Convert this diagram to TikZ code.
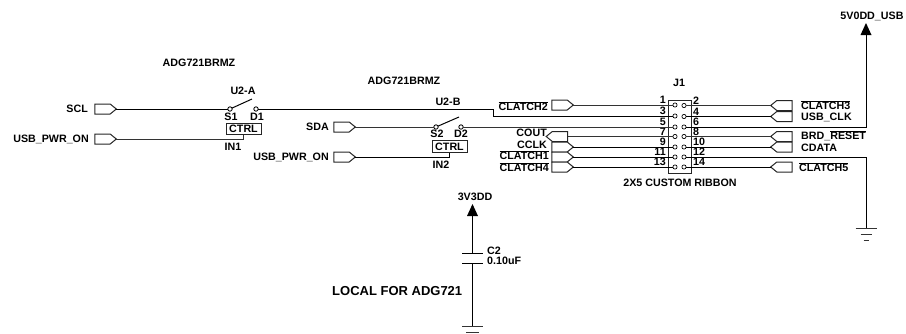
\documentclass[tikz,border=0pt]{standalone}
\usepackage{fontspec}
\setmainfont{Liberation Sans}
\usetikzlibrary{shapes.symbols}
\newcommand\ovl[1]{\leavevmode\vbox{\hrule height .8pt \kern .9pt\hbox{#1}}}
\tikzset{
  lbl/.style={font=\fontsize{10.7pt}{11pt}\selectfont\bfseries, inner sep=0pt, text height=7.7pt, text depth=0pt},
  wire/.style={draw=black, line width=1pt},
  thin wire/.style={draw=black!80, line width=1pt},
  port/.style={shape=signal, draw=black!85, line width=1pt, fill=white, signal from=nowhere, signal pointer angle=78, minimum width=21.5pt, minimum height=10pt, inner sep=0pt, outer sep=0pt},
  portR/.style={port, signal to=east},
  portL/.style={port, signal to=west},
  pin/.style={shape=circle, draw=black, line width=.7pt, fill=white, minimum size=4.2pt, inner sep=0pt, outer sep=0pt},
  sw/.style={shape=circle, draw=black, line width=.8pt, fill=white, minimum size=4.4pt, inner sep=0pt, outer sep=0pt},
  ctrl/.style={shape=rectangle, draw=black!85, line width=1pt, inner sep=0pt, font=\fontsize{10.7pt}{11pt}\selectfont\bfseries, minimum width=35pt, minimum height=11.5pt},
  supply/.style={fill=black},
}
\begin{document}
\begin{tikzpicture}[x=1pt,y=-1pt]
\useasboundingbox (0,0) rectangle (906,333);
% titles
\node[lbl] (t1) at (199,63) {ADG721BRMZ};
\node[lbl] (t2) at (404,81) {ADG721BRMZ};
\node[lbl] (u2a) at (243,91) {U2-A};
\node[lbl] (u2b) at (448,102) {U2-B};
\node[lbl] (j1) at (679,83) {J1};
\node[lbl] (rib) at (680,183) {2X5 CUSTOM RIBBON};
\node[lbl] (v5) at (872,16) {5V0DD\_USB};
\node[lbl] (v3) at (475,197) {3V3DD};
\node[lbl] (c2) [anchor=west] at (487,251) {C2};
\node[lbl] (c2v) [anchor=west] at (487,261) {0.10uF};
\node[lbl,font=\fontsize{13pt}{14pt}\selectfont\bfseries,text height=9.3pt] (local) [anchor=west] at (332,291) {LOCAL FOR ADG721};
% switch A
\node[portR] (scl) at (102.5,109) {};
\node[lbl,anchor=east] (sclt) at (88,109) {SCL};
\node[portR] (pwr1) at (102.5,139) {};
\node[lbl,anchor=east] (pwr1t) at (89,139) {USB\_PWR\_ON};
\node[sw] (s1) at (230,109) {};
\node[sw] (d1) at (256,109) {};
\coordinate (a1) at (252,99);
\node[lbl] (s1t) at (231,117) {S1};
\node[lbl] (d1t) at (257,117) {D1};
\node[ctrl] (ca) at (243.5,129) {CTRL};
\node[lbl] (in1) at (233,147) {IN1};
\draw[wire] (scl.east) -- (s1);
\draw[wire] (s1) -- (a1);
\draw[thin wire] (pwr1.east) -| (ca.south);
% switch B
\node[portR] (sda) at (341.5,127) {};
\node[lbl,anchor=east] (sdat) at (329,127) {SDA};
\node[portR] (pwr2) at (341.5,157) {};
\node[lbl,anchor=east] (pwr2t) at (329,157) {USB\_PWR\_ON};
\node[sw] (s2) at (436,127) {};
\node[sw] (d2) at (461,127) {};
\coordinate (a2) at (459,117);
\node[lbl] (s2t) at (437,134) {S2};
\node[lbl] (d2t) at (461,134) {D2};
\node[ctrl] (cb) at (449.5,146.5) {CTRL};
\node[lbl] (in2) at (441,165) {IN2};
\draw[thin wire] (sda.east) -- (s2);
\draw[wire] (s2) -- (a2);
\draw[wire] (pwr2.east) -| (cb.south);
% connector J1
\node[shape=rectangle, draw=black!85, line width=1pt, minimum width=23pt, minimum height=73pt, inner sep=0pt] (jb) at (679.5,136.5) {};
\foreach \n/\y in {1/105,3/116,5/127,7/136.5,9/147,11/157,13/167}{
  \node[pin] (p\n) at (675,\y) {};
  \node[lbl,anchor=east] (n\n) at (666,\y-5) {\n};
}
\foreach \n/\y in {2/105.5,4/116.5,6/127,8/136.5,10/147,12/157,14/167}{
  \node[pin] (p\n) at (684,\y) {};
  \node[lbl,anchor=west] (n\n) at (693,\y-5) {\n};
}
% left ports
\node[portR] (cl2) at (559.5,105) {};
\node[lbl,anchor=east] (cl2t) at (548,107) {\ovl{CLATCH2}};
\node[portL] (cout) at (560,136.5) {};
\node[lbl,anchor=east] (coutt) at (547,133) {COUT};
\node[portR] (cclk) at (559.5,147) {};
\node[lbl,anchor=east] (cclkt) at (547,145) {CCLK};
\node[portR] (cl1) at (559.5,157) {};
\node[lbl,anchor=east] (cl1t) at (549,156) {\ovl{CLATCH1}};
\node[portR] (cl4) at (559.5,167) {};
\node[lbl,anchor=east] (cl4t) at (549,168) {\ovl{CLATCH4}};
\draw[thin wire] (cl2.east) -- (p1);
\draw[thin wire] (cout.east) -- (p7);
\draw[wire] (cclk.east) -- (p9);
\draw[wire] (cl1.east) -- (p11);
\draw[wire] (cl4.east) -- (p13);
\coordinate (k1) at (493,109);
\draw[wire] (d1) -- (k1) |- (p3);
\draw[thin wire] (d2) -- (p5);
% right ports
\node[portL] (cl3) at (784.5,105.5) {};
\node[lbl,anchor=west] (cl3t) at (801,106) {\ovl{CLATCH3}};
\node[portL] (uclk) at (784.5,116.5) {};
\node[lbl,anchor=west] (uclkt) at (801,117) {USB\_CLK};
\node[portL] (brd) at (784.5,136.5) {};
\node[lbl,anchor=west] (brdt) at (801,136) {BRD\_\ovl{RESET}};
\node[portL] (cdata) at (784.5,147) {};
\node[lbl,anchor=west] (cdatat) at (801,148) {CDATA};
\node[portL] (cl5) at (784.5,167) {};
\node[lbl,anchor=west] (cl5t) at (799,168) {\ovl{CLATCH5}};
\draw[thin wire] (p2) -- (cl3.west);
\draw[wire] (p4) -- (uclk.west);
\draw[thin wire] (p8) -- (brd.west);
\draw[wire] (p10) -- (cdata.west);
\draw[wire] (p14) -- (cl5.west);
% 5V and ground
\coordinate (vtop) at (866,35);
\coordinate (g1) at (866,228);
\draw[wire] (p6) -| (vtop);
\draw[wire] (p12) -| (g1);
\fill[supply] (vtop) ++(-5.5,0) -- ++(5.5,-12) -- ++(5.5,12) -- cycle;
\draw[thin wire] (g1) ++(-10.5,0) -- ++(21,0);
\draw[thin wire] (g1) ++(-5.5,6) -- ++(11,0);
\draw[thin wire] (g1) ++(-2.5,12) -- ++(5,0);
% capacitor
\coordinate (ct) at (472.5,216);
\coordinate (cp1) at (472.5,253);
\coordinate (cp2) at (472.5,263);
\coordinate (g2) at (472.5,326);
\draw[wire] (ct) -- (cp1);
\draw[wire] (cp2) -- (g2);
\draw[wire] (cp1) ++(-10.5,0) -- ++(21,0);
\draw[wire] (cp2) ++(-10.5,0) -- ++(21,0);
\fill[supply] (ct) ++(-5.5,0) -- ++(5.5,-12) -- ++(5.5,12) -- cycle;
\draw[thin wire] (g2) ++(-10.5,0) -- ++(21,0);
\draw[thin wire] (g2) ++(-6.5,6) -- ++(13,0);
\end{tikzpicture}
\end{document}
